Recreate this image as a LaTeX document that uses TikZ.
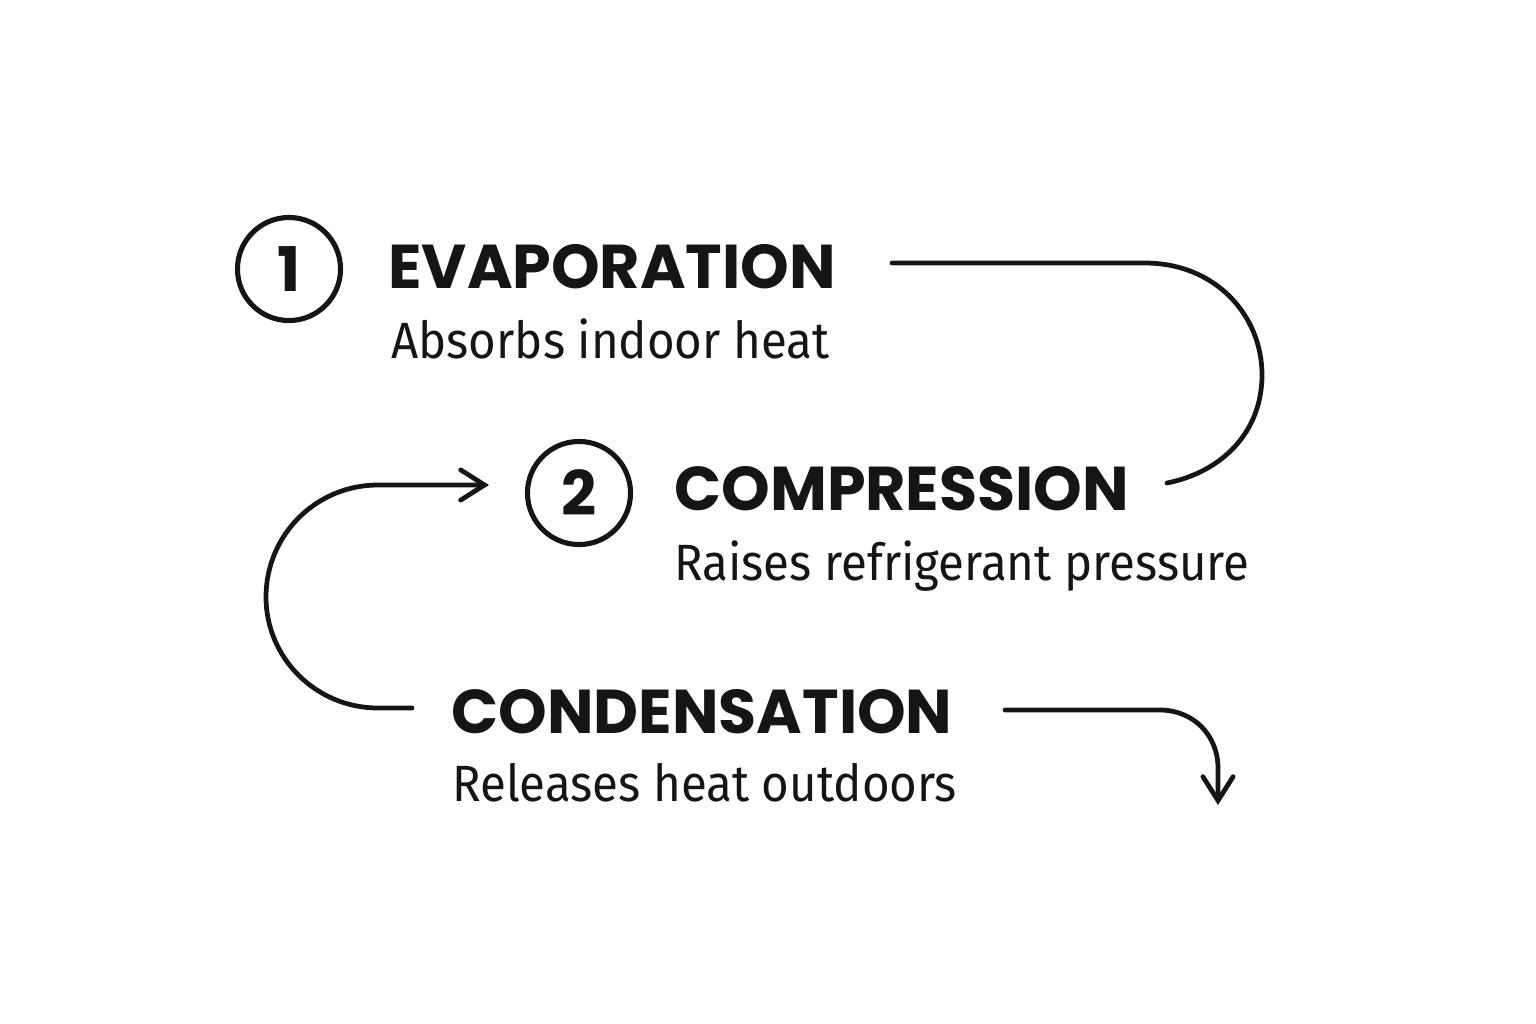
\documentclass[tikz,border=0pt]{standalone}
\usepackage{fontspec}
\setmainfont{Fira Sans}
\newfontfamily\headfont{Poppins}
\newfontfamily\notefont{Fira Sans}[FakeStretch=0.93]
\usepackage{xcolor}
\usetikzlibrary{arrows.meta, positioning, calc}
\definecolor{ink}{HTML}{151515}

\begin{document}
\begin{tikzpicture}[x=0.01cm, y=-0.01cm, line width=1.35pt, draw=ink, text=ink,
    stage/.style={anchor=base west, inner sep=0pt, font=\headfont\bfseries\fontsize{17.6}{20}\selectfont},
    note/.style={anchor=base west, inner sep=0pt, font=\notefont\fontsize{14.5}{16}\selectfont},
    num/.style={circle, draw, line width=1.45pt, minimum size=1.03cm, inner sep=0pt, font=\headfont\bfseries\fontsize{17.5}{20}\selectfont},
    flow/.style={line cap=round, line join=round, -{Straight Barb[length=6.8pt, width=8.6pt, line cap=round]}}]
      \useasboundingbox[fill=white] (0, 0) rectangle (1536, 1024);

      % stages
      \node[num] (one) at (289, 269) {1};
      \node[stage] (evap) at (386, 288) {EVAPORATION};
      \node[note] (evapnote) at (389, 358) {Absorbs indoor heat};

      \node[num] (two) at (579, 493) {2};
      \node[stage] (comp) at (672, 510) {COMPRESSION};
      \node[note] (compnote) at (672, 580) {Raises refrigerant pressure};

      \node[stage] (cond) at (449, 733) {CONDENSATION};
      \node[note] (condnote) at (450, 801) {Releases heat outdoors};

      % loose ends of the flow lines
      \coordinate (evapout) at (892, 263);
      \coordinate (compin) at (1167, 483);
      \coordinate (condin) at (412, 708);
      \coordinate (twoin) at (489, 485);
      \coordinate (condout) at (1005, 710);
      \coordinate (away) at (1218, 805);

      \draw[line cap=round] (evapout) -- (1145, 263) .. controls (1215, 263) and (1262, 315) .. (1262, 375)
        .. controls (1262, 432) and (1222, 472) .. (compin);
      \draw[flow] (condin) -- (378, 708) .. controls (316, 708) and (266, 658) .. (266, 597)
        .. controls (266, 535) and (316, 485) .. (378, 485) -- (twoin);
      \draw[flow] (condout) -- (1160, 710) .. controls (1193, 710) and (1218, 735) .. (1218, 768) -- (away);

    \end{tikzpicture}
\end{document}
